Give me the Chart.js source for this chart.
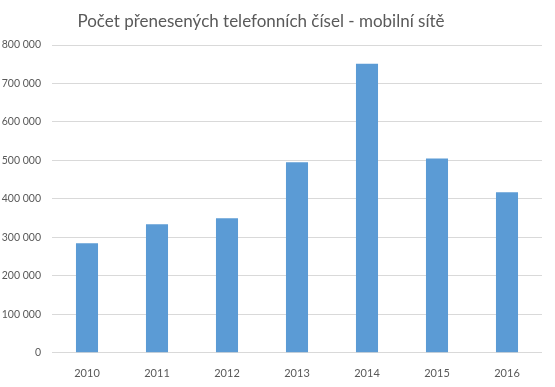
<!DOCTYPE html>
<html>
<head>
<meta charset="utf-8">
<script src="https://cdn.jsdelivr.net/npm/chart.js@4"></script>
<style>
  html, body { margin: 0; padding: 0; background: #fff; }
  #wrap { width: 555px; height: 387px; }
</style>
</head>
<body>
<div id="wrap"><canvas id="myChart" width="555" height="387"></canvas></div>
<script>
const categories = ['2010', '2011', '2012', '2013', '2014', '2015', '2016'];
const ported = [285000, 334000, 350000, 495000, 751000, 505000, 417000];
const yTicks = [0, 100000, 200000, 300000, 400000, 500000, 600000, 700000, 800000];
const titleText = 'Počet přenesených telefonních čísel - mobilní sítě';

const fmt = (v) => String(v).replace(/\B(?=(\d{3})+(?!\d))/g, ' ');

// title drawn by hand so it can sit a little left of centre, like the original
const titlePlugin = {
  id: 'sheetTitle',
  afterDraw(chart) {
    const c = chart.ctx;
    c.save();
    c.font = '17px Lato, "Noto Sans", sans-serif';
    c.fillStyle = '#595959';
    c.textAlign = 'center';
    c.textBaseline = 'middle';
    c.fillText(titleText, 261, 22);
    c.restore();
  }
};

const ctx = document.getElementById('myChart');
new Chart(ctx, {
  type: 'bar',
  data: {
    labels: categories,
    datasets: [{
      data: ported,
      backgroundColor: '#5b9bd5',
      barPercentage: 0.315,
      categoryPercentage: 1
    }]
  },
  options: {
    responsive: false,
    animation: false,
    layout: { padding: { top: 45, right: 13, bottom: 1, left: 0 } },
    plugins: { legend: { display: false }, tooltip: { enabled: false } },
    scales: {
      x: {
        grid: { display: false },
        border: { display: false },
        ticks: { color: '#595959', font: { size: 11, family: 'Lato, "Noto Sans", sans-serif' }, padding: 6 }
      },
      y: {
        min: 0,
        max: 800000,
        afterBuildTicks(axis) { axis.ticks = yTicks.map(v => ({ value: v })); },
        afterFit(axis) { axis.width = 52; },
        grid: { color: '#d9d9d9', drawTicks: false },
        border: { display: false },
        ticks: {
          color: '#595959',
          padding: 11,
          font: { size: 10.5, family: 'Lato, "Noto Sans", sans-serif' },
          callback: (v) => fmt(v)
        }
      }
    }
  },
  plugins: [titlePlugin]
});
</script>
</body>
</html>
